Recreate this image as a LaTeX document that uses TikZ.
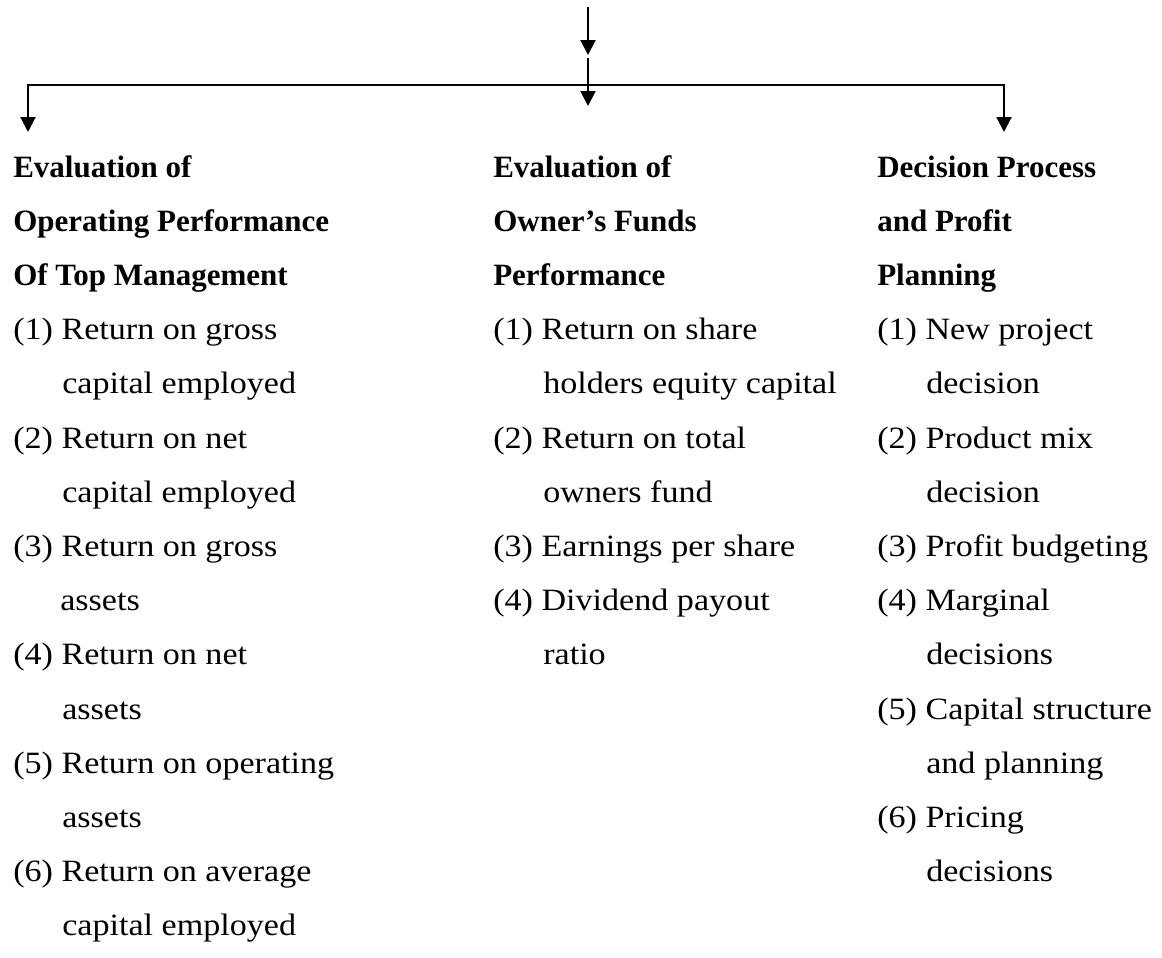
\documentclass[tikz,border=0pt]{standalone}
\usepackage{fontspec}
\setmainfont{Liberation Serif}[FakeStretch=1.1]
\newfontfamily\hdfont{Liberation Serif}
\usetikzlibrary{arrows.meta}
\tikzset{
  conn/.style={line width=1.5pt, line join=miter},
  arr/.tip={Triangle[length=11.25pt, width=11.25pt]},
  txt/.style={anchor=base west, inner sep=0pt, font=\fontsize{23.25pt}{27pt}\selectfont},
  hd/.style={txt, font=\fontsize{23.25pt}{27pt}\selectfont\hdfont\bfseries}
}
\begin{document}
\begin{tikzpicture}[x=0.75pt,y=-0.75pt]
\useasboundingbox (0,0) rectangle (1162,957);
% connectors
\coordinate (top) at (588,7);
\coordinate (tip1) at (588,55);
\coordinate (mid2) at (588,58);
\coordinate (tC) at (588,106);
\coordinate (tL) at (28,132);
\coordinate (hR) at (1004,85);
\coordinate (tR) at (1004,132);
\draw[conn,-arr] (top) -- (tip1);
\draw[conn,-arr] (mid2) -- (tC);
\draw[conn,arr-arr] (tL) |- (hR) -- (tR);
% left column
\foreach \k/\txt in {0/Evaluation of, 1/Operating Performance, 2/Of Top Management}
  \node[hd] (L\k) at (13,177+54.2*\k) {\txt};
\foreach \k/\dx/\txt in {3/0/(1) Return on gross, 4/49/capital employed,
  5/0/(2) Return on net, 6/49/capital employed,
  7/0/(3) Return on gross, 8/47/assets,
  9/0/(4) Return on net, 10/49/assets,
  11/0/(5) Return on operating, 12/49/assets,
  13/0/(6) Return on average, 14/49/capital employed}
  \node[txt] (L\k) at (13+\dx,177+54.2*\k) {\txt};
% middle column
\foreach \k/\txt in {0/Evaluation of, 1/Owner’s Funds, 2/Performance}
  \node[hd] (M\k) at (493,177+54.2*\k) {\txt};
\foreach \k/\dx/\txt in {3/0/(1) Return on share, 4/50/holders equity capital,
  5/0/(2) Return on total, 6/50/owners fund,
  7/0/(3) Earnings per share,
  8/0/(4) Dividend payout, 9/50/ratio}
  \node[txt] (M\k) at (493+\dx,177+54.2*\k) {\txt};
% right column
\foreach \k/\txt in {0/Decision Process, 1/and Profit, 2/Planning}
  \node[hd] (R\k) at (877,177+54.2*\k) {\txt};
\foreach \k/\dx/\txt in {3/0/(1) New project, 4/49/decision,
  5/0/(2) Product mix, 6/49/decision,
  7/0/(3) Profit budgeting,
  8/0/(4) Marginal, 9/49/decisions,
  10/0/(5) Capital structure, 11/49/and planning,
  12/0/(6) Pricing, 13/49/decisions}
  \node[txt] (R\k) at (877+\dx,177+54.2*\k) {\txt};
\end{tikzpicture}
\end{document}
